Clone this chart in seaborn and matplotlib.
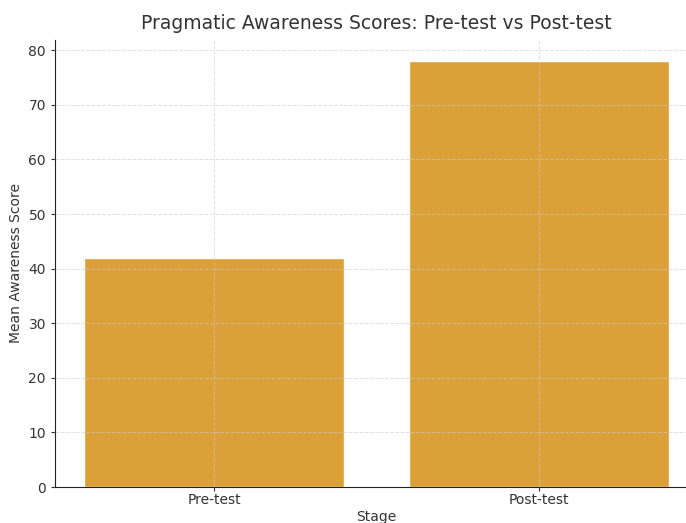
import matplotlib
matplotlib.use("Agg")
import matplotlib.pyplot as plt
import seaborn as sns
import pandas as pd

stages = ["Pre-test", "Post-test"]
scores = [42, 78]

df = pd.DataFrame({"Stage": stages, "Mean Awareness Score": scores})

sns.set_style("whitegrid", {
    "grid.linestyle": "--",
    "grid.color": "#d9d9d9",
    "axes.edgecolor": "#222222",
})
plt.rcParams["font.family"] = ["DejaVu Sans"]

fig = plt.figure(figsize=(6.86, 5.23), dpi=100)
ax = fig.add_axes([0.0802, 0.0688, 0.937, 0.855])

sns.barplot(data=df, x="Stage", y="Mean Awareness Score", color="#DBA038",
            saturation=1, width=0.8, ax=ax)

ax.set_axisbelow(False)
ax.grid(True, linestyle="--", color="#cccccc", linewidth=0.7, alpha=0.6)
ax.set_xlim(-0.49, 1.49)
ax.set_ylim(0, 81.9)
ax.set_yticks(range(0, 81, 10))
for s in ["top", "right"]:
    ax.spines[s].set_visible(False)
ax.spines["left"].set_color("#222222")
ax.spines["bottom"].set_color("#222222")
ax.tick_params(axis="both", colors="#333333", labelsize=10, length=3,
               left=True, bottom=True, labelcolor="#333333")
ax.tick_params(axis="x", pad=1.5)

ax.set_title("Pragmatic Awareness Scores: Pre-test vs Post-test",
             fontsize=13.5, color="#333333", pad=8)
ax.set_xlabel("Stage", fontsize=10, color="#333333", labelpad=2)
ax.set_ylabel("Mean Awareness Score", fontsize=10, color="#333333")

fig.savefig("out.png", dpi=100)
